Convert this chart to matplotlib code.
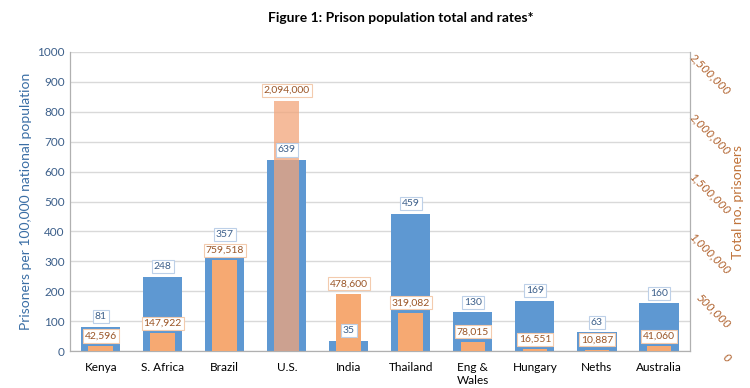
import numpy as np
import matplotlib.pyplot as plt

countries = ['Kenya', 'S. Africa', 'Brazil', 'U.S.', 'India', 'Thailand',
             'Eng &\nWales', 'Hungary', 'Neths', 'Australia']
rates = [81, 248, 357, 639, 35, 459, 130, 169, 63, 160]
totals = [42596, 147922, 759518, 2094000, 478600, 319082, 78015, 16551, 10887, 41060]

blue = '#5E98D2'
orange = '#F6A972'
brown = '#B0622E'
plt.rcParams['font.family'] = ['Lato', 'DejaVu Sans']

fig = plt.figure(figsize=(7.5, 3.88), dpi=100)
ax = fig.add_axes([0.093, 0.095, 0.827, 0.771])
ax2 = ax.twinx()

x = np.arange(len(countries))
ax.bar(x, rates, width=0.63, color=blue, zorder=2)
ax.set_ylim(0, 1000)
ax.set_yticks(range(0, 1001, 100))
ax.set_xlim(-0.5, len(countries) - 0.5)
ax.set_xticks(x)
ax.set_xticklabels(countries, fontsize=8.5)
ax.grid(axis='y', color='#D9D9D9', linewidth=1, zorder=0)
ax.tick_params(axis='y', colors='#3C5F8A', labelsize=8.5, length=0)
ax.tick_params(axis='x', length=0, pad=8)
ax.set_ylabel('Prisoners per 100,000 national population', color='#3A6EA5', fontsize=10)

# scale factor between the two y axes
k = 2500000 / 1000

# the U.S. bar is see-through in the original
bar_cols = [orange, orange, orange, '#F2A57A', orange, orange, orange, orange, orange, orange]
alphas = [1, 1, 1, 0.75, 1, 1, 1, 1, 1, 1]
ax2.set_ylim(0, 2500000)
for i in range(len(countries)):
    ax2.bar(x[i], totals[i], width=0.4, color=bar_cols[i], alpha=alphas[i], zorder=3)
ax2.set_yticks(range(0, 2500001, 500000))
ax2.set_yticklabels(['{:,}'.format(v) for v in range(0, 2500001, 500000)],
                    rotation=-45, ha='right', va='top', style='italic')
ax2.tick_params(axis='y', colors=brown, labelsize=8.5, length=0, pad=31)
ax2.set_ylabel('Total no. prisoners', color='#C0733A', fontsize=10)
ax2.yaxis.set_label_coords(1.068, 0.5)

for a in (ax, ax2):
    a.spines['top'].set_visible(False)
    for s in ['left', 'right', 'bottom']:
        a.spines[s].set_color('#B0B0B0')

for i in range(len(countries)):
    ax2.annotate(str(rates[i]), (x[i], rates[i] * k), xytext=(0, 4), textcoords='offset points',
                 ha='center', va='bottom', fontsize=7.5, color='#3C5F8A', zorder=6,
                 bbox=dict(boxstyle='square,pad=0.2', fc='white', ec='#BDD0E8', lw=0.8))
    ax2.annotate('{:,}'.format(totals[i]), (x[i], totals[i]), xytext=(0, 4), textcoords='offset points',
                 ha='center', va='bottom', fontsize=7.5, color='#9A5526', zorder=6,
                 bbox=dict(boxstyle='square,pad=0.2', fc='white', ec='#F3CBAE', lw=0.8))

fig.suptitle('Figure 1: Prison population total and rates*', fontsize=10, fontweight='bold',
             x=0.535, y=0.97)
fig.savefig('out.png', dpi=100)
